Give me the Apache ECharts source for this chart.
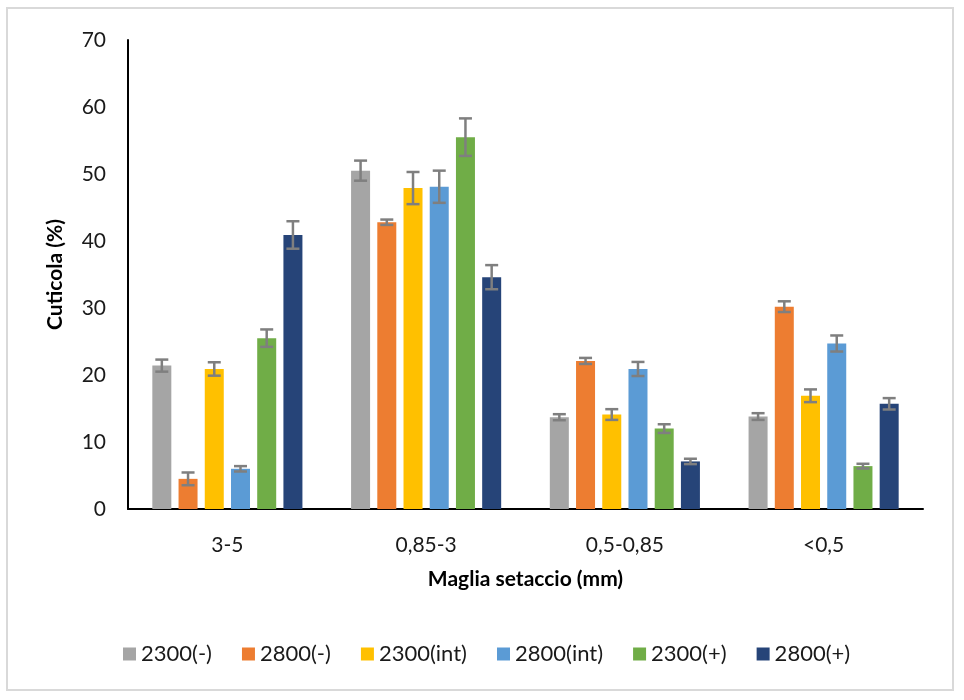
<!DOCTYPE html>
<html>
<head>
<meta charset="utf-8">
<script src="https://cdn.jsdelivr.net/npm/echarts@6/dist/echarts.min.js"></script>
<style>
html,body{margin:0;padding:0;background:#fff;}
#chart{width:964px;height:700px;}
</style>
</head>
<body>
<div id="chart"></div>
<script>
// ---- data ----
var categories = ['3-5', '0,85-3', '0,5-0,85', '<0,5'];
var seriesNames = ['2300(-)', '2800(-)', '2300(int)', '2800(int)', '2300(+)', '2800(+)'];
var v2300m = [21.4, 50.5, 13.7, 13.8];
var v2800m = [4.5, 42.8, 22.1, 30.2];
var v2300i = [20.9, 47.9, 14.1, 16.9];
var v2800i = [6.0, 48.1, 20.9, 24.7];
var v2300p = [25.5, 55.5, 12.0, 6.4];
var v2800p = [40.9, 34.6, 7.1, 15.7];
var e2300m = [0.9, 1.5, 0.45, 0.5];
var e2800m = [0.95, 0.4, 0.45, 0.8];
var e2300i = [1.0, 2.4, 0.8, 0.95];
var e2800i = [0.4, 2.4, 1.05, 1.2];
var e2300p = [1.3, 2.8, 0.65, 0.35];
var e2800p = [2.05, 1.8, 0.4, 0.85];
var yTicks = [0, 10, 20, 30, 40, 50, 60, 70];

var values = [v2300m, v2800m, v2300i, v2800i, v2300p, v2800p];
var errors = [e2300m, e2800m, e2300i, e2800i, e2300p, e2800p];
var colors = ['#A5A5A5', '#ED7D31', '#FFC000', '#5B9BD5', '#70AD47', '#264478'];

var BAR_W = 19;
var GAP_RATIO = 0.38;
var FONT = 'Lato';

var chart = echarts.init(document.getElementById('chart'));

var series = [];
values.forEach(function (vals, i) {
  series.push({
    name: seriesNames[i],
    type: 'bar',
    data: vals,
    barWidth: BAR_W,
    barGap: (GAP_RATIO * 100) + '%',
    itemStyle: { color: colors[i] },
    emphasis: { disabled: true }
  });
});
values.forEach(function (vals, i) {
  var n = values.length;
  var step = BAR_W * (1 + GAP_RATIO);
  var offset = (i - (n - 1) / 2) * step;
  series.push({
    name: 'err' + i,
    type: 'custom',
    z: 10,
    silent: true,
    data: vals.map(function (v, k) { return [k, v, errors[i][k]]; }),
    encode: { x: 0, y: 1 },
    renderItem: function (params, api) {
      var idx = api.value(0), v = api.value(1), e = api.value(2);
      var hi = api.coord([idx, v + e]);
      var lo = api.coord([idx, v - e]);
      var x = hi[0] + offset;
      var cap = 6.5;
      var st = { stroke: '#7F7F7F', lineWidth: 2.5 };
      return {
        type: 'group',
        children: [
          { type: 'line', shape: { x1: x, y1: hi[1], x2: x, y2: lo[1] }, style: st },
          { type: 'line', shape: { x1: x - cap, y1: hi[1], x2: x + cap, y2: hi[1] }, style: st },
          { type: 'line', shape: { x1: x - cap, y1: lo[1], x2: x + cap, y2: lo[1] }, style: st }
        ]
      };
    }
  });
});

var option = {
  backgroundColor: '#ffffff',
  animation: false,
  textStyle: { fontFamily: FONT },
  graphic: [{
    type: 'rect',
    shape: { x: 7, y: 8, width: 946, height: 682 },
    style: { fill: 'none', stroke: '#D9D9D9', lineWidth: 2 },
    silent: true
  }],
  grid: { left: 128, right: 41, top: 40, bottom: 191 },
  legend: {
    data: seriesNames,
    left: 118,
    top: 638,
    itemWidth: 13,
    itemHeight: 13,
    itemGap: 30,
    icon: 'rect',
    textStyle: { fontFamily: FONT, fontSize: 22, color: '#1a1a1a' }
  },
  xAxis: {
    type: 'category',
    data: categories,
    name: 'Maglia setaccio (mm)',
    nameLocation: 'middle',
    nameGap: 60,
    nameTextStyle: { fontFamily: FONT, fontSize: 21, fontWeight: 'bold', color: '#000' },
    axisLine: { lineStyle: { color: '#000', width: 2 } },
    axisTick: { show: false },
    axisLabel: { margin: 26, fontFamily: FONT, fontSize: 21, color: '#1a1a1a' },
    splitLine: { show: false }
  },
  yAxis: {
    type: 'value',
    min: yTicks[0],
    max: yTicks[yTicks.length - 1],
    interval: 10,
    name: 'Cuticola (%)',
    nameLocation: 'middle',
    nameGap: 62,
    nameRotate: 90,
    nameTextStyle: { fontFamily: FONT, fontSize: 21, fontWeight: 'bold', color: '#000' },
    axisLine: { show: true, lineStyle: { color: '#000', width: 2 } },
    axisTick: { show: false },
    axisLabel: { margin: 22, fontFamily: FONT, fontSize: 21, color: '#1a1a1a' },
    splitLine: { show: false }
  },
  series: series
};
chart.setOption(option);
</script>
</body>
</html>
